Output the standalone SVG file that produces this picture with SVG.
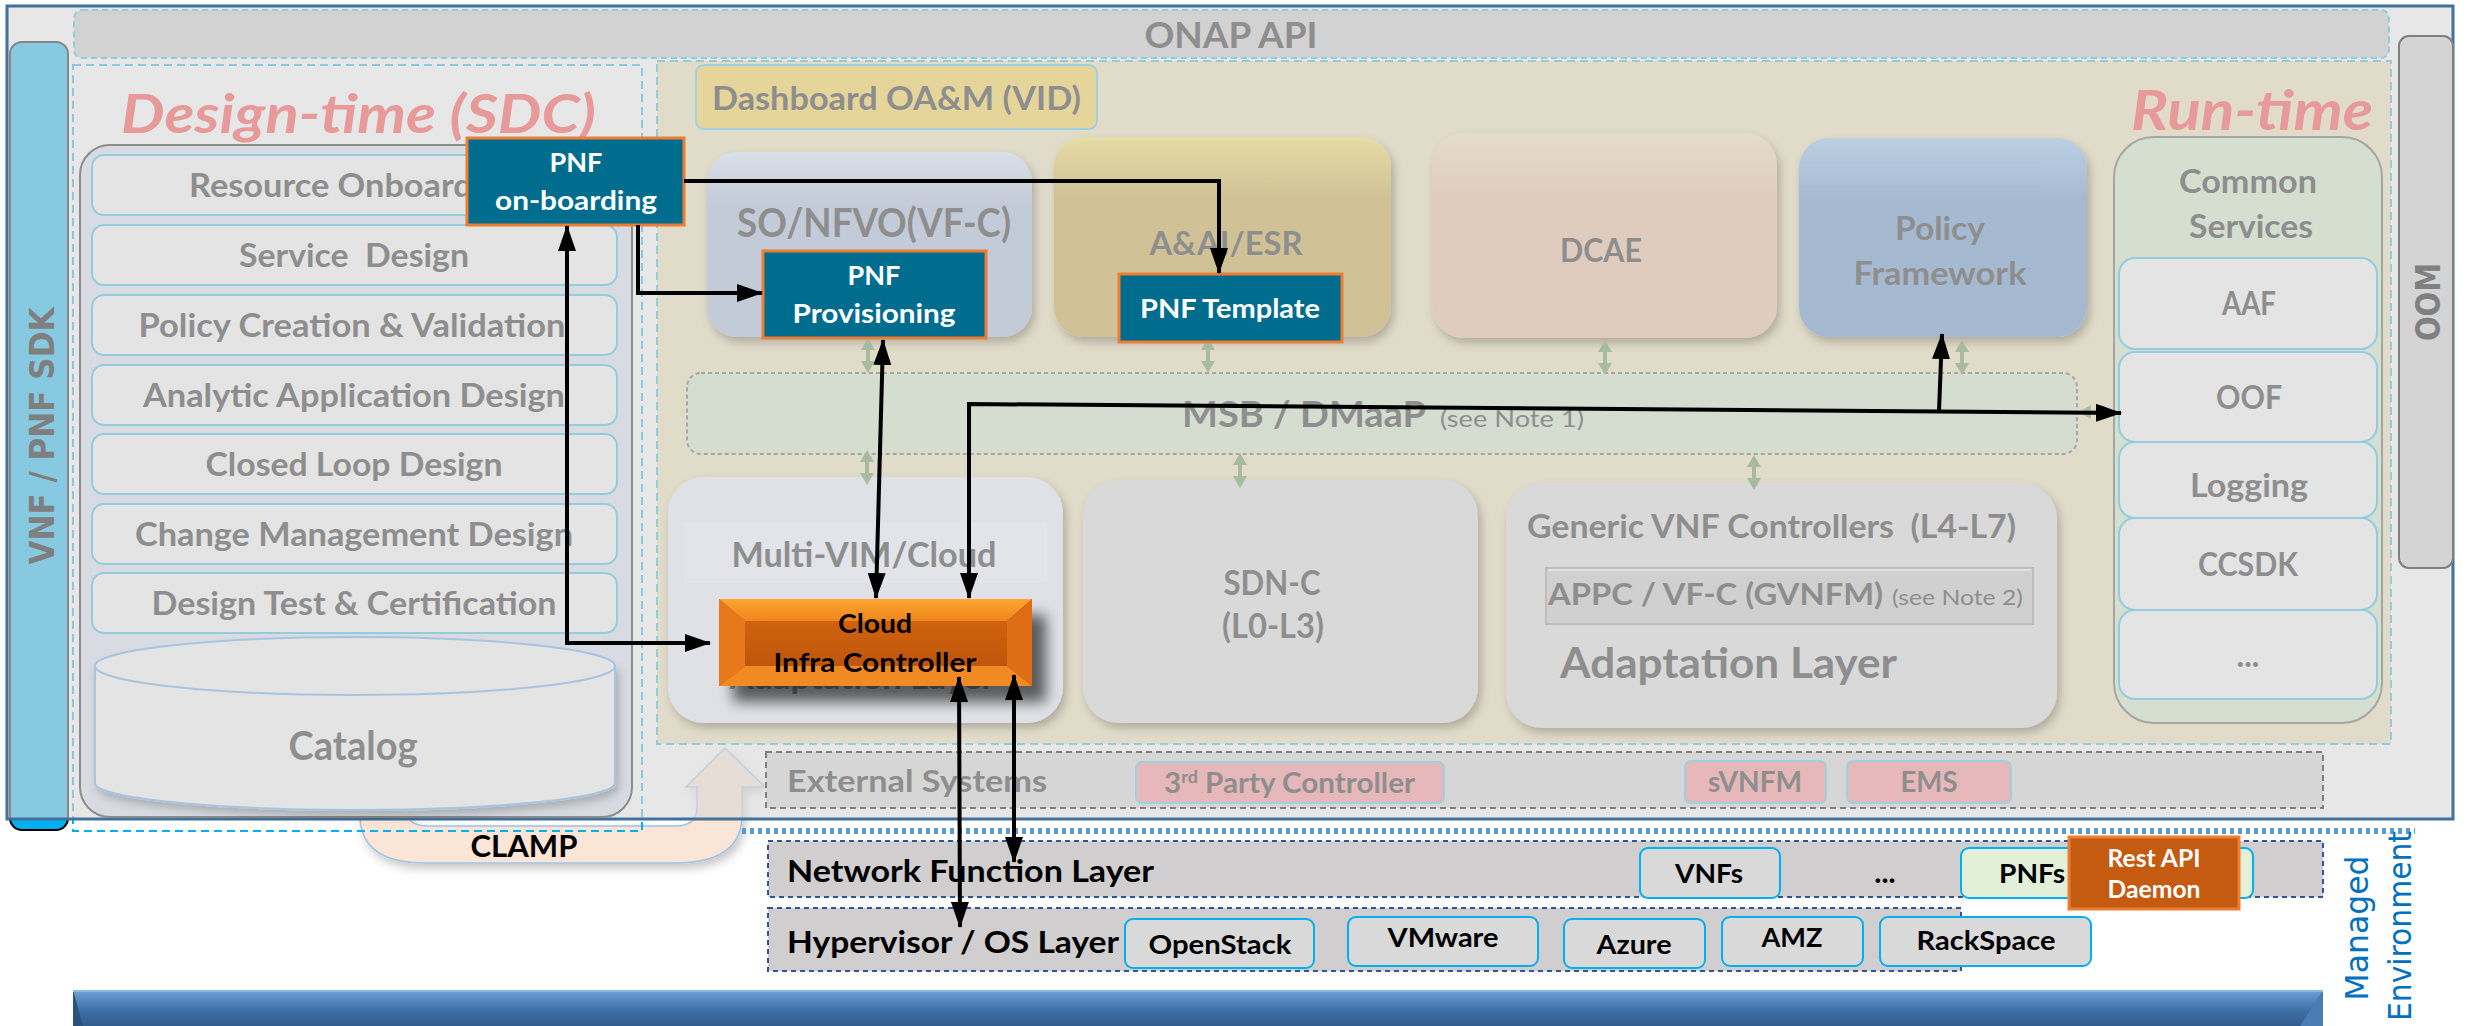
<svg xmlns="http://www.w3.org/2000/svg" width="2468" height="1026" viewBox="0 0 2468 1026">
<defs>
<style>
text { font-family: Lato, "Open Sans", "Liberation Sans", sans-serif; font-weight: bold; }
.g { fill: #8e8e8e; }
.w { fill: #ffffff; }
.k { fill: #000000; }
.item { fill: #e4e4e4; stroke: #93cddd; stroke-width: 2; }
.teal { fill: #006d8f; stroke: #ed7d31; stroke-width: 3; }
.layer { fill: #d0cece; stroke: #2f5597; stroke-width: 2; stroke-dasharray: 5 4; }
.chip { fill: #d9d9d9; stroke: #00b0f0; stroke-width: 2; }
.ext { fill: #e6b8b9; stroke: #9dd1e0; stroke-width: 2; }
.conn { fill: none; stroke: #000000; stroke-width: 4; }
.ga { fill: #a8bba0; }
.title { fill: #e8999a; font-style: italic; }
</style>
<marker id="ah" markerUnits="userSpaceOnUse" markerWidth="26" markerHeight="18" refX="25" refY="9" orient="auto-start-reverse">
<path d="M0,0 L26,9 L0,18 Z" fill="#000000"/>
</marker>
<path id="gv" d="M0,0 L7,12 L2,12 L2,23 L7,23 L0,35 L-7,23 L-2,23 L-2,12 L-7,12 Z"/>
<filter id="sh" x="-10%" y="-10%" width="130%" height="130%">
<feDropShadow dx="3" dy="5" stdDeviation="5" flood-color="#000" flood-opacity="0.22"/>
</filter>
<filter id="sh2" x="-10%" y="-10%" width="140%" height="170%">
<feDropShadow dx="14" dy="16" stdDeviation="7" flood-color="#000" flood-opacity="0.6"/>
</filter>
<linearGradient id="gSO" x1="0" y1="0" x2="0" y2="1"><stop offset="0" stop-color="#d9e0e8"/><stop offset="0.3" stop-color="#c3cad8"/><stop offset="1" stop-color="#c3cad8"/></linearGradient>
<linearGradient id="gAAI" x1="0" y1="0" x2="0" y2="1"><stop offset="0" stop-color="#e6dca6"/><stop offset="0.3" stop-color="#d0c296"/><stop offset="1" stop-color="#d0c296"/></linearGradient>
<linearGradient id="gDC" x1="0" y1="0" x2="0" y2="1"><stop offset="0" stop-color="#e4dccb"/><stop offset="0.3" stop-color="#e0ccbe"/><stop offset="1" stop-color="#e0ccbe"/></linearGradient>
<linearGradient id="gPol" x1="0" y1="0" x2="0" y2="1"><stop offset="0" stop-color="#bcd0e4"/><stop offset="0.3" stop-color="#a5b9d1"/><stop offset="1" stop-color="#a5b9d1"/></linearGradient>
<linearGradient id="gBar" x1="0" y1="0" x2="0" y2="1"><stop offset="0" stop-color="#6fa3d8"/><stop offset="0.5" stop-color="#3f70a6"/><stop offset="1" stop-color="#2d5888"/></linearGradient>
<linearGradient id="gBv" x1="0" y1="0" x2="0" y2="1"><stop offset="0" stop-color="#ffa533"/><stop offset="1" stop-color="#ee861c"/></linearGradient>
<linearGradient id="gIn" x1="0" y1="0" x2="0" y2="1"><stop offset="0" stop-color="#d0620f"/><stop offset="1" stop-color="#c0560f"/></linearGradient>
</defs>

<!-- underlying shapes partly covered by the ONAP frame -->
<g id="sdk-bar-base">
<rect x="10" y="42" width="58" height="788" rx="12" fill="#00b0f0" stroke="#000000" stroke-width="2"/>
</g>
<g id="clamp">
<path d="M360,700 L360,815 Q360,863 425,863 L675,863 Q742,863 742,815 L742,787 L765,787 L725,748 L686,787 L697,787 L697,808 Q697,826 675,826 L428,826 Q406,826 406,808 L406,700 Z" fill="#fbe5d6" stroke="#9dc3e6" stroke-width="1.5" filter="url(#sh)"/>
<text x="524" y="857" font-size="30" class="k" text-anchor="middle" textLength="107" lengthAdjust="spacingAndGlyphs">CLAMP</text>
</g>
<g id="design-time-border">
<rect x="73" y="65" width="569" height="766" fill="none" stroke="#00b0f0" stroke-width="2" stroke-dasharray="8 5"/>
</g>

<!-- ONAP frame -->
<g id="onap-frame">
<rect x="7" y="6" width="2446" height="813" fill="#d8d8d8" fill-opacity="0.62" stroke="#41719c" stroke-width="3"/>
</g>

<g id="sdk-label">
<text transform="translate(54,436) rotate(-90)" font-size="34" fill="#7f7f7f" text-anchor="middle" textLength="257" lengthAdjust="spacingAndGlyphs" style="font-family: 'DejaVu Sans', sans-serif;">VNF / PNF SDK</text>
</g>

<g id="onap-api">
<rect x="74" y="10" width="2315" height="48" rx="8" fill="#d2d2d2" stroke="#92cddc" stroke-width="2" stroke-dasharray="6 4"/>
<text x="1231" y="48" font-size="36" class="g" text-anchor="middle" textLength="173" lengthAdjust="spacingAndGlyphs">ONAP API</text>
</g>

<g id="oom">
<rect x="2399" y="36" width="54" height="532" rx="10" fill="#d4d4d4" stroke="#7f7f7f" stroke-width="2"/>
<text transform="translate(2440,302) rotate(-90)" font-size="34" fill="#808080" text-anchor="middle" textLength="78" lengthAdjust="spacingAndGlyphs" style="font-family: 'DejaVu Sans', sans-serif;">OOM</text>
</g>

<!-- Design-time -->
<g id="design-time">
<text x="121" y="133" font-size="54" class="title" textLength="475" lengthAdjust="spacingAndGlyphs">Design-time (SDC)</text>
<rect x="80" y="145" width="552" height="672" rx="30" fill="#d8dce2" stroke="#8c8c8c" stroke-width="2"/>
</g>
<g id="resource-onboarding"><rect class="item" x="92" y="155" width="525" height="60" rx="12"/><text x="354" y="197" font-size="33" class="g" text-anchor="middle" textLength="330" lengthAdjust="spacingAndGlyphs">Resource Onboarding</text></g>
<g id="service-design"><rect class="item" x="92" y="225" width="525" height="60" rx="12"/><text x="354" y="267" font-size="33" class="g" text-anchor="middle" textLength="230" lengthAdjust="spacingAndGlyphs" xml:space="preserve">Service  Design</text></g>
<g id="policy-creation"><rect class="item" x="92" y="295" width="525" height="60" rx="12"/><text x="352" y="337" font-size="33" class="g" text-anchor="middle" textLength="427" lengthAdjust="spacingAndGlyphs">Policy Creation &amp; Validation</text></g>
<g id="analytic-design"><rect class="item" x="92" y="365" width="525" height="60" rx="12"/><text x="354" y="407" font-size="33" class="g" text-anchor="middle" textLength="422" lengthAdjust="spacingAndGlyphs">Analytic Application Design</text></g>
<g id="closed-loop"><rect class="item" x="92" y="434" width="525" height="60" rx="12"/><text x="354" y="476" font-size="33" class="g" text-anchor="middle" textLength="297" lengthAdjust="spacingAndGlyphs">Closed Loop Design</text></g>
<g id="change-mgmt"><rect class="item" x="92" y="504" width="525" height="60" rx="12"/><text x="354" y="546" font-size="33" class="g" text-anchor="middle" textLength="438" lengthAdjust="spacingAndGlyphs">Change Management Design</text></g>
<g id="design-test"><rect class="item" x="92" y="573" width="525" height="60" rx="12"/><text x="354" y="615" font-size="33" class="g" text-anchor="middle" textLength="405" lengthAdjust="spacingAndGlyphs">Design Test &amp; Certification</text></g>
<g id="catalog">
<path d="M95,666 L95,783 A260,27 0 0 0 615,783 L615,666 Z" fill="#e4e4e4" stroke="#a9c4e0" stroke-width="2" filter="url(#sh)"/>
<ellipse cx="355" cy="666" rx="260" ry="29" fill="#e4e4e4" stroke="#a9c4e0" stroke-width="2"/>
<text x="353" y="760" font-size="40" class="g" text-anchor="middle" textLength="129" lengthAdjust="spacingAndGlyphs">Catalog</text>
</g>

<!-- Run-time -->
<g id="run-time">
<rect x="657" y="61" width="1734" height="683" fill="#e1dbca" stroke="#92cddc" stroke-width="2" stroke-dasharray="8 5"/>
<text x="2131" y="130" font-size="56" class="title" textLength="242" lengthAdjust="spacingAndGlyphs">Run-time</text>
</g>
<g id="dashboard">
<rect x="696" y="65" width="401" height="64" rx="8" fill="#e6d59b" stroke="#9dd2e0" stroke-width="2"/>
<text x="712" y="110" font-size="33" class="g" textLength="369" lengthAdjust="spacingAndGlyphs">Dashboard OA&amp;M (VID)</text>
</g>
<g id="so-nfvo">
<rect x="707" y="152" width="325" height="185" rx="30" fill="url(#gSO)" filter="url(#sh)"/>
<text x="874" y="237" font-size="40" class="g" text-anchor="middle" textLength="274" lengthAdjust="spacingAndGlyphs">SO/NFVO(VF-C)</text>
</g>
<g id="aai-esr">
<rect x="1054" y="137" width="337" height="200" rx="30" fill="url(#gAAI)" filter="url(#sh)"/>
<text x="1226" y="255" font-size="33" class="g" text-anchor="middle" textLength="153" lengthAdjust="spacingAndGlyphs">A&amp;AI/ESR</text>
</g>
<g id="dcae">
<rect x="1432" y="133" width="345" height="205" rx="32" fill="url(#gDC)" filter="url(#sh)"/>
<text x="1601" y="262" font-size="33" class="g" text-anchor="middle" textLength="82" lengthAdjust="spacingAndGlyphs">DCAE</text>
</g>
<g id="policy-framework">
<rect x="1799" y="138" width="288" height="199" rx="30" fill="url(#gPol)" filter="url(#sh)"/>
<text x="1940" y="240" font-size="33" class="g" text-anchor="middle" textLength="90" lengthAdjust="spacingAndGlyphs">Policy</text>
<text x="1940" y="285" font-size="33" class="g" text-anchor="middle" textLength="173" lengthAdjust="spacingAndGlyphs">Framework</text>
</g>
<g id="common-services">
<rect x="2114" y="137" width="268" height="586" rx="40" fill="#d5dfd0" stroke="#a6a6a6" stroke-width="2"/>
<text x="2248" y="193" font-size="33" class="g" text-anchor="middle" textLength="138" lengthAdjust="spacingAndGlyphs">Common</text>
<text x="2251" y="238" font-size="33" class="g" text-anchor="middle" textLength="124" lengthAdjust="spacingAndGlyphs">Services</text>
</g>
<g id="aaf"><rect class="item" x="2119" y="258" width="258" height="91" rx="16"/><text x="2249" y="315" font-size="32" class="g" text-anchor="middle" textLength="54" lengthAdjust="spacingAndGlyphs">AAF</text></g>
<g id="oof"><rect class="item" x="2119" y="352" width="258" height="90" rx="16"/><text x="2249" y="409" font-size="32" class="g" text-anchor="middle" textLength="66" lengthAdjust="spacingAndGlyphs">OOF</text></g>
<g id="logging"><rect class="item" x="2119" y="442" width="258" height="76" rx="16"/><text x="2249" y="497" font-size="32" class="g" text-anchor="middle" textLength="118" lengthAdjust="spacingAndGlyphs">Logging</text></g>
<g id="ccsdk"><rect class="item" x="2119" y="518" width="258" height="92" rx="16"/><text x="2248" y="576" font-size="32" class="g" text-anchor="middle" textLength="100" lengthAdjust="spacingAndGlyphs">CCSDK</text></g>
<g id="more-services"><rect class="item" x="2119" y="610" width="258" height="89" rx="16"/><text x="2248" y="667" font-size="32" class="g" text-anchor="middle">...</text></g>

<g id="msb-dmaap">
<rect x="687" y="373" width="1390" height="81" rx="14" fill="#d4ddd0" stroke="#a6a6a6" stroke-width="2" stroke-dasharray="4 3"/>
<text x="1182" y="427" font-size="37" class="g" textLength="244" lengthAdjust="spacingAndGlyphs">MSB / DMaaP</text>
<text x="1440" y="427" font-size="24" class="g" style="font-weight: normal;" textLength="144" lengthAdjust="spacingAndGlyphs">(see Note 1)</text>
</g>

<g id="multi-vim">
<rect x="668" y="477" width="395" height="246" rx="36" fill="#dfe1e6" filter="url(#sh)"/>
<rect x="684" y="522" width="363" height="61" fill="#e2e4e9"/>
<text x="864" y="567" font-size="34" class="g" text-anchor="middle" textLength="265" lengthAdjust="spacingAndGlyphs">Multi-VIM/Cloud</text>
<text x="862" y="689" font-size="32" class="g" text-anchor="middle" textLength="265" lengthAdjust="spacingAndGlyphs">Adaptation Layer</text>
</g>
<g id="sdn-c">
<rect x="1083" y="480" width="395" height="243" rx="36" fill="#d9d9d9" filter="url(#sh)"/>
<text x="1272" y="595" font-size="34" class="g" text-anchor="middle" textLength="97" lengthAdjust="spacingAndGlyphs">SDN-C</text>
<text x="1273" y="638" font-size="34" class="g" text-anchor="middle" textLength="102" lengthAdjust="spacingAndGlyphs">(L0-L3)</text>
</g>
<g id="generic-vnf">
<rect x="1506" y="483" width="551" height="245" rx="36" fill="#d9d9d9" filter="url(#sh)"/>
<text x="1527" y="538" font-size="32" class="g" textLength="489" lengthAdjust="spacingAndGlyphs" xml:space="preserve">Generic VNF Controllers  (L4-L7)</text>
<rect x="1546" y="568" width="487" height="56" fill="#d0d0d0" stroke="#bdbdbd" stroke-width="2"/>
<line x1="1548" y1="570" x2="2031" y2="570" stroke="#e2e2e2" stroke-width="2"/>
<text x="1548" y="605" font-size="30" class="g" textLength="335" lengthAdjust="spacingAndGlyphs">APPC / VF-C (GVNFM)</text>
<text x="1892" y="605" font-size="22" class="g" style="font-weight: normal;" textLength="131" lengthAdjust="spacingAndGlyphs">(see Note 2)</text>
<text x="1560" y="678" font-size="42" class="g" textLength="337" lengthAdjust="spacingAndGlyphs">Adaptation Layer</text>
</g>

<g id="external-systems">
<rect x="766" y="752" width="1557" height="56" fill="#d6d6d6" stroke="#808080" stroke-width="2" stroke-dasharray="6 4"/>
<text x="787" y="792" font-size="31" class="g" textLength="260" lengthAdjust="spacingAndGlyphs">External Systems</text>
</g>
<g id="third-party"><rect class="ext" x="1136" y="762" width="308" height="41" rx="6"/><text x="1164" y="793" font-size="28" class="g" textLength="251" lengthAdjust="spacingAndGlyphs">3<tspan dy="-10" font-size="17">rd</tspan><tspan dy="10"> Party Controller</tspan></text></g>
<g id="svnfm"><rect class="ext" x="1685" y="761" width="141" height="42" rx="6"/><text x="1755" y="792" font-size="28" class="g" text-anchor="middle" textLength="94" lengthAdjust="spacingAndGlyphs">sVNFM</text></g>
<g id="ems"><rect class="ext" x="1847" y="761" width="164" height="42" rx="6"/><text x="1929" y="792" font-size="28" class="g" text-anchor="middle" textLength="57" lengthAdjust="spacingAndGlyphs">EMS</text></g>

<!-- green MSB links -->
<g id="msb-links" class="ga">
<use href="#gv" x="868" y="338"/>
<use href="#gv" x="1208" y="338"/>
<use href="#gv" x="1605" y="340"/>
<use href="#gv" x="1962" y="340"/>
<use href="#gv" x="867" y="450"/>
<use href="#gv" x="1240" y="453"/>
<use href="#gv" x="1754" y="455"/>
<use href="#gv" transform="translate(2079,412) rotate(-90)"/>
</g>

<!-- Managed environment -->
<g id="managed-environment">
<line x1="742" y1="831" x2="2415" y2="831" stroke="#5b9bd5" stroke-width="6" stroke-dasharray="4 4"/>
<text transform="translate(2368,928) rotate(-90)" font-size="32" fill="#0070c0" text-anchor="middle" textLength="145" lengthAdjust="spacingAndGlyphs" style="font-family: 'DejaVu Sans', sans-serif; font-weight: normal;">Managed</text>
<text transform="translate(2411,926) rotate(-90)" font-size="32" fill="#0070c0" text-anchor="middle" textLength="190" lengthAdjust="spacingAndGlyphs" style="font-family: 'DejaVu Sans', sans-serif; font-weight: normal;">Environment</text>
</g>
<g id="network-function-layer">
<rect class="layer" x="768" y="841" width="1555" height="56"/>
<text x="787" y="882" font-size="31" class="k" textLength="367" lengthAdjust="spacingAndGlyphs">Network Function Layer</text>
</g>
<g id="vnfs"><rect class="chip" x="1640" y="848" width="140" height="50" rx="8"/><text x="1709" y="883" font-size="26" class="k" text-anchor="middle" textLength="68" lengthAdjust="spacingAndGlyphs">VNFs</text></g>
<text x="1885" y="883" font-size="30" class="k" text-anchor="middle">...</text>
<g id="pnfs"><rect x="1961" y="848" width="292" height="50" rx="8" fill="#e2efd9" stroke="#00b0f0" stroke-width="2"/><text x="2032" y="883" font-size="26" class="k" text-anchor="middle" textLength="66" lengthAdjust="spacingAndGlyphs">PNFs</text></g>
<g id="rest-api-daemon">
<rect x="2069" y="837" width="170" height="72" fill="#c55a11" stroke="#ed7d31" stroke-width="3"/>
<text x="2154" y="867" font-size="24" class="w" text-anchor="middle" textLength="93" lengthAdjust="spacingAndGlyphs">Rest API</text>
<text x="2154" y="898" font-size="24" class="w" text-anchor="middle" textLength="93" lengthAdjust="spacingAndGlyphs">Daemon</text>
</g>
<g id="hypervisor-layer">
<rect class="layer" x="768" y="908" width="1193" height="63"/>
<text x="787" y="953" font-size="31" class="k" textLength="332" lengthAdjust="spacingAndGlyphs">Hypervisor / OS Layer</text>
</g>
<g id="openstack"><rect class="chip" x="1125" y="919" width="189" height="49" rx="8"/><text x="1220" y="954" font-size="26" class="k" text-anchor="middle" textLength="143" lengthAdjust="spacingAndGlyphs">OpenStack</text></g>
<g id="vmware"><rect class="chip" x="1348" y="917" width="190" height="49" rx="8"/><text x="1443" y="947" font-size="26" class="k" text-anchor="middle" textLength="111" lengthAdjust="spacingAndGlyphs">VMware</text></g>
<g id="azure"><rect class="chip" x="1564" y="919" width="141" height="49" rx="8"/><text x="1634" y="954" font-size="26" class="k" text-anchor="middle" textLength="75" lengthAdjust="spacingAndGlyphs">Azure</text></g>
<g id="amz"><rect class="chip" x="1722" y="917" width="141" height="49" rx="8"/><text x="1792" y="947" font-size="26" class="k" text-anchor="middle" textLength="61" lengthAdjust="spacingAndGlyphs">AMZ</text></g>
<g id="rackspace"><rect class="chip" x="1880" y="917" width="211" height="49" rx="8"/><text x="1986" y="950" font-size="26" class="k" text-anchor="middle" textLength="139" lengthAdjust="spacingAndGlyphs">RackSpace</text></g>

<g id="bottom-bar">
<rect x="73" y="990" width="2250" height="40" fill="url(#gBar)"/>
<polygon points="73,990 83,1026 73,1026" fill="#2a527f"/>
<polygon points="2323,990 2300,1026 2323,1026" fill="#4a7db3"/>
<line x1="73" y1="991" x2="2323" y2="991" stroke="#8db8e3" stroke-width="2"/>
</g>

<!-- PNF boxes -->
<g id="pnf-onboarding">
<rect class="teal" x="467" y="138" width="217" height="87"/>
<text x="576" y="172" font-size="27" class="w" text-anchor="middle">PNF</text>
<text x="576" y="210" font-size="27" class="w" text-anchor="middle" textLength="162" lengthAdjust="spacingAndGlyphs">on-boarding</text>
</g>
<g id="pnf-provisioning">
<rect class="teal" x="763" y="251" width="223" height="87"/>
<text x="874" y="285" font-size="27" class="w" text-anchor="middle">PNF</text>
<text x="874" y="323" font-size="27" class="w" text-anchor="middle" textLength="163" lengthAdjust="spacingAndGlyphs">Provisioning</text>
</g>
<g id="pnf-template">
<rect class="teal" x="1119" y="274" width="223" height="68"/>
<text x="1230" y="318" font-size="27" class="w" text-anchor="middle" textLength="180" lengthAdjust="spacingAndGlyphs">PNF Template</text>
</g>
<g id="cloud-infra-controller">
<g filter="url(#sh2)">
<rect x="719" y="599" width="313" height="87" fill="#c55a11"/>
<polygon points="719,599 1032,599 1007,621 745,621" fill="url(#gBv)"/>
<polygon points="719,686 1032,686 1007,666 745,666" fill="#f08a20"/>
<polygon points="719,599 745,621 745,666 719,686" fill="#e8781b"/>
<polygon points="1032,599 1007,621 1007,666 1032,686" fill="#de6d14"/>
<rect x="745" y="621" width="262" height="45" fill="url(#gIn)"/>
</g>
<text x="875" y="633" font-size="27" class="k" text-anchor="middle" textLength="74" lengthAdjust="spacingAndGlyphs">Cloud</text>
<text x="875" y="672" font-size="27" class="k" text-anchor="middle" textLength="203" lengthAdjust="spacingAndGlyphs">Infra Controller</text>
</g>

<!-- connectors -->
<g id="connectors">
<path class="conn" d="M684,181 H1219 V273" marker-end="url(#ah)"/>
<path class="conn" d="M638,225 V293 H762" marker-end="url(#ah)"/>
<path class="conn" d="M567,226 V643 H710" marker-start="url(#ah)" marker-end="url(#ah)"/>
<path class="conn" d="M883,340 L876,598" marker-start="url(#ah)" marker-end="url(#ah)"/>
<path class="conn" d="M969,598 V404 L2121,413" marker-start="url(#ah)" marker-end="url(#ah)"/>
<path class="conn" d="M1939,411 L1942,334" marker-end="url(#ah)"/>
<path class="conn" d="M959,677 L960,927" marker-start="url(#ah)" marker-end="url(#ah)"/>
<path class="conn" d="M1014,675 L1014,862" marker-start="url(#ah)" marker-end="url(#ah)"/>
</g>
</svg>
